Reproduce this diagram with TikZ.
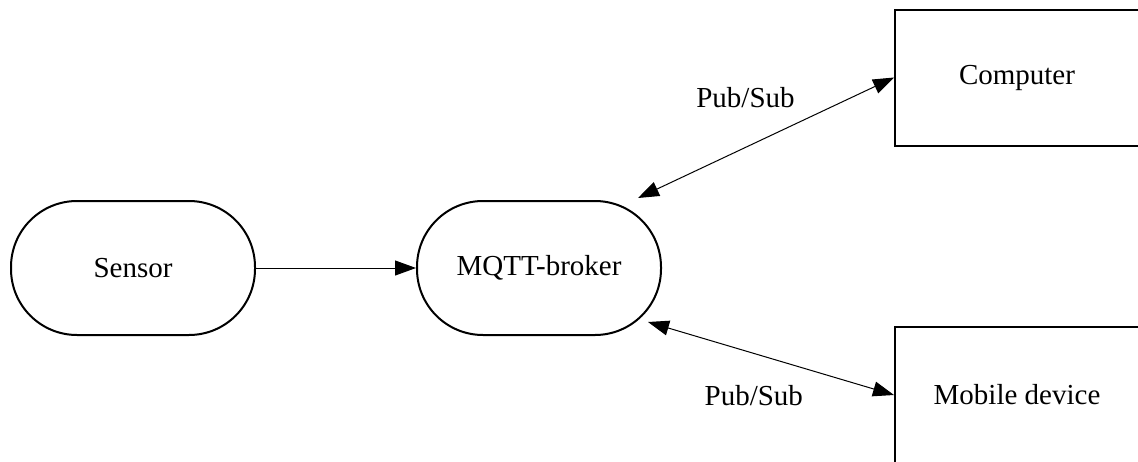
\documentclass[tikz,border=0pt]{standalone}
\usepackage{fontspec}
\setmainfont{Liberation Serif}
\usetikzlibrary{shapes,arrows.meta,calc}
\newcommand{\mqttroundnode}[3] {\node at (#1) (#2) [draw, line width=2pt, rounded corners=66pt, minimum width=244pt, minimum height=134pt] {#3};}
\newcommand{\mqttboxnode}[3] {\node at (#1) (#2) [draw, line width=2pt, minimum width=244pt, minimum height=136pt] {#3};}
\newcommand{\mqtttransition}[2] {\draw [->] (#1) -- (#2);}
\newcommand{\mqttpubsub}[4] {\draw [<->] (#1) -- (#2) node [#4] {#3};}

\begin{document}
\begin{tikzpicture}[x=1pt, y=-1pt, line width=1pt,
  >={Triangle[length=21pt,width=15pt]},
  every node/.style={font=\fontsize{29pt}{35pt}\selectfont}]
\useasboundingbox (0,0) rectangle (1138,461);

\mqttroundnode {133,268}{sensor}{Sensor};
\mqttroundnode {539,268}{broker}{MQTT-broker};
\mqttboxnode {1017,77.5}{computer}{Computer};
\mqttboxnode {1017,395}{mobile}{Mobile device};

\mqtttransition{sensor.east}{broker.west};
\mqttpubsub{$(broker.center)+(99,-70)$}{computer.west}{Pub/Sub}{pos=0.42, above=36pt};
\mqttpubsub{$(broker.center)+(109,54)$}{mobile.west}{Pub/Sub}{pos=0.43, below=28pt};
\end{tikzpicture}
\end{document}
